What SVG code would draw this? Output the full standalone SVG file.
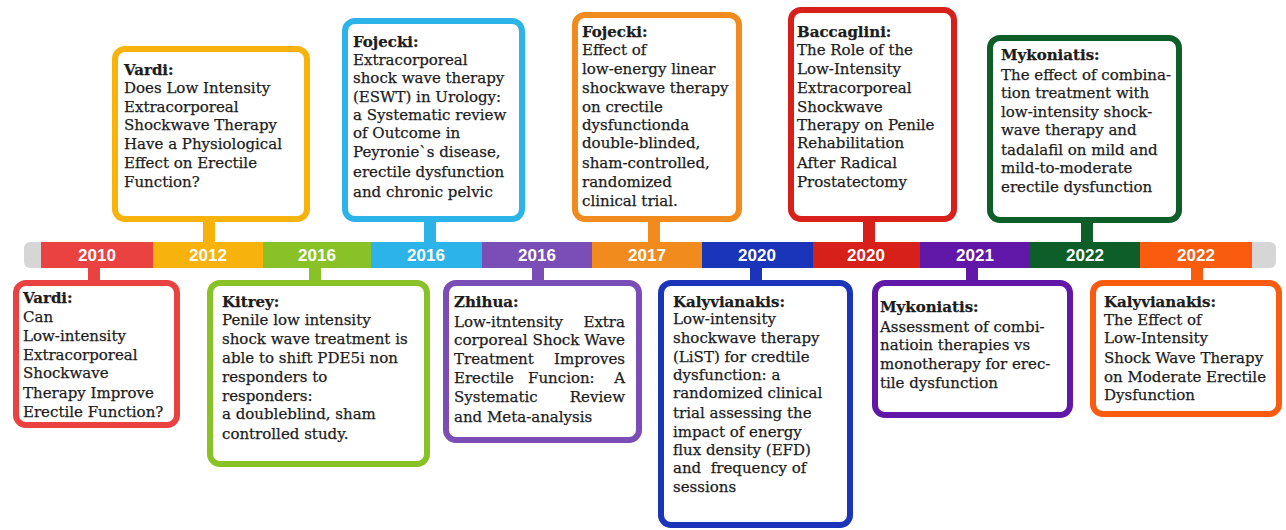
<svg xmlns="http://www.w3.org/2000/svg" width="1286" height="530" viewBox="0 0 1286 530">
<style>
.t{font-family:"DejaVu Serif","Liberation Serif",serif;font-size:15px;fill:#1c1c1c;stroke:#1c1c1c;stroke-width:0.25px}
.h{font-weight:bold}
.yr{font-family:"Liberation Sans",Arial,sans-serif;font-weight:bold;font-size:17px;fill:#fff;text-anchor:middle}
.box{fill:#fff;stroke-width:6}
</style>
<rect width="1286" height="530" fill="#fff"/>
<g id="timeline">
<rect x="24" y="242" width="1252" height="26" rx="6" fill="#d6d6d6"/>
<rect x="41" y="242" width="112" height="26" fill="#ea4141"/>
<rect x="153" y="242" width="110" height="26" fill="#f7b20c"/>
<rect x="263" y="242" width="108" height="26" fill="#88c226"/>
<rect x="371" y="242" width="111" height="26" fill="#2cb3e8"/>
<rect x="482" y="242" width="110" height="26" fill="#7b4db6"/>
<rect x="592" y="242" width="110" height="26" fill="#f28b1e"/>
<rect x="702" y="242" width="111" height="26" fill="#1a35b9"/>
<rect x="813" y="242" width="107" height="26" fill="#d72019"/>
<rect x="920" y="242" width="110" height="26" fill="#6118a8"/>
<rect x="1030" y="242" width="110" height="26" fill="#0d5e28"/>
<rect x="1140" y="242" width="112" height="26" fill="#f95b0f"/>
<text class="yr" x="97" y="261">2010</text>
<text class="yr" x="208" y="261">2012</text>
<text class="yr" x="317" y="261">2016</text>
<text class="yr" x="426" y="261">2016</text>
<text class="yr" x="537" y="261">2016</text>
<text class="yr" x="647" y="261">2017</text>
<text class="yr" x="757" y="261">2020</text>
<text class="yr" x="866" y="261">2020</text>
<text class="yr" x="975" y="261">2021</text>
<text class="yr" x="1085" y="261">2022</text>
<text class="yr" x="1196" y="261">2022</text>
</g>
<g id="connectors">
<rect x="88" y="266" width="12" height="16" fill="#ea4141"/>
<rect x="203" y="219" width="12" height="24" fill="#f7b20c"/>
<rect x="309" y="266" width="12" height="16" fill="#88c226"/>
<rect x="424" y="219" width="12" height="24" fill="#2cb3e8"/>
<rect x="532" y="266" width="12" height="16" fill="#7b4db6"/>
<rect x="648" y="219" width="12" height="24" fill="#f28b1e"/>
<rect x="750" y="266" width="12" height="16" fill="#1a35b9"/>
<rect x="863" y="219" width="12" height="24" fill="#d72019"/>
<rect x="966" y="266" width="12" height="16" fill="#6118a8"/>
<rect x="1081" y="219" width="12" height="24" fill="#0d5e28"/>
<rect x="1191" y="266" width="12" height="16" fill="#f95b0f"/>
</g>
<g id="n2010">
<rect class="box" x="16" y="283" width="161" height="142" rx="10" stroke="#ea4141"/>
<text class="t" x="23"><tspan class="h" y="303">Vardi:</tspan><tspan x="23" y="322">Can</tspan><tspan x="23" y="341">Low-intensity</tspan><tspan x="23" y="360">Extracorporeal</tspan><tspan x="23" y="378">Shockwave</tspan><tspan x="23" y="398">Therapy Improve</tspan><tspan x="23" y="417">Erectile Function?</tspan></text>
</g>
<g id="n2012">
<rect class="box" x="115" y="49" width="192" height="170" rx="10" stroke="#f7b20c"/>
<text class="t" x="124"><tspan class="h" y="75">Vardi:</tspan><tspan x="124" y="93">Does Low Intensity</tspan><tspan x="124" y="112">Extracorporeal</tspan><tspan x="124" y="130">Shockwave Therapy</tspan><tspan x="124" y="149">Have a Physiological</tspan><tspan x="124" y="168">Effect on Erectile</tspan><tspan x="124" y="187">Function?</tspan></text>
</g>
<g id="n2016a">
<rect class="box" x="210" y="283" width="217" height="181" rx="10" stroke="#88c226"/>
<text class="t" x="222"><tspan class="h" y="307">Kitrey:</tspan><tspan x="222" y="325">Penile low intensity</tspan><tspan x="222" y="344">shock wave treatment is</tspan><tspan x="222" y="363">able to shift PDE5i non</tspan><tspan x="222" y="382">responders to</tspan><tspan x="222" y="401">responders:</tspan><tspan x="222" y="419">a doubleblind, sham</tspan><tspan x="222" y="439">controlled study.</tspan></text>
</g>
<g id="n2016b">
<rect class="box" x="345" y="21" width="177" height="198" rx="10" stroke="#2cb3e8"/>
<text class="t" x="353"><tspan class="h" y="47">Fojecki:</tspan><tspan x="353" y="65">Extracorporeal</tspan><tspan x="353" y="83">shock wave therapy</tspan><tspan x="353" y="102">(ESWT) in Urology:</tspan><tspan x="353" y="120">a Systematic review</tspan><tspan x="353" y="138">of Outcome in</tspan><tspan x="353" y="157">Peyronie`s disease,</tspan><tspan x="353" y="177">erectile dysfunction</tspan><tspan x="353" y="197">and chronic pelvic</tspan></text>
</g>
<g id="n2016c">
<rect class="box" x="446" y="283" width="193" height="157" rx="10" stroke="#7b4db6"/>
<text class="t h" x="454" y="307">Zhihua:</text>
<text class="t" x="454" y="327">Low-itntensity</text><text class="t" x="625" y="327" text-anchor="end">Extra</text>
<text class="t" x="454" y="345" textLength="171" lengthAdjust="spacingAndGlyphs">corporeal Shock Wave</text>
<text class="t" x="454" y="364">Treatment</text><text class="t" x="625" y="364" text-anchor="end">Improves</text>
<text class="t" x="454" y="383">Erectile</text><text class="t" x="528" y="383">Funcion:</text><text class="t" x="625" y="383" text-anchor="end">A</text>
<text class="t" x="454" y="402">Systematic</text><text class="t" x="625" y="402" text-anchor="end">Review</text>
<text class="t" x="454" y="422">and Meta-analysis</text>
</g>
<g id="n2017">
<rect class="box" x="575" y="15" width="164" height="204" rx="10" stroke="#f28b1e"/>
<text class="t" x="582"><tspan class="h" y="37">Fojecki:</tspan><tspan x="582" y="55">Effect of</tspan><tspan x="582" y="74">low-energy linear</tspan><tspan x="582" y="93">shockwave therapy</tspan><tspan x="582" y="112">on crectile</tspan><tspan x="582" y="130">dysfunctionda</tspan><tspan x="582" y="148">double-blinded,</tspan><tspan x="582" y="168">sham-controlled,</tspan><tspan x="582" y="187">randomized</tspan><tspan x="582" y="206">clinical trial.</tspan></text>
</g>
<g id="n2020a">
<rect class="box" x="661" y="283" width="189" height="242" rx="10" stroke="#1a35b9"/>
<text class="t" x="673"><tspan class="h" y="307">Kalyvianakis:</tspan><tspan x="673" y="324">Low-intensity</tspan><tspan x="673" y="343">shockwave therapy</tspan><tspan x="673" y="362">(LiST) for credtile</tspan><tspan x="673" y="380">dysfunction: a</tspan><tspan x="673" y="398">randomized clinical</tspan><tspan x="673" y="418">trial assessing the</tspan><tspan x="673" y="437">impact of energy</tspan><tspan x="673" y="455">flux density (EFD)</tspan><tspan x="673" y="473" xml:space="preserve">and  frequency of</tspan><tspan x="673" y="492">sessions</tspan></text>
</g>
<g id="n2020b">
<rect class="box" x="791" y="10" width="163" height="209" rx="10" stroke="#d72019"/>
<text class="t" x="797"><tspan class="h" y="37">Baccaglini:</tspan><tspan x="797" y="55">The Role of the</tspan><tspan x="797" y="74">Low-Intensity</tspan><tspan x="797" y="93">Extracorporeal</tspan><tspan x="797" y="112">Shockwave</tspan><tspan x="797" y="130">Therapy on Penile</tspan><tspan x="797" y="148">Rehabilitation</tspan><tspan x="797" y="168">After Radical</tspan><tspan x="797" y="187">Prostatectomy</tspan></text>
</g>
<g id="n2021">
<rect class="box" x="875" y="283" width="195" height="132" rx="10" stroke="#6118a8"/>
<text class="t" x="880"><tspan class="h" y="312">Mykoniatis:</tspan><tspan x="880" y="332">Assessment of combi-</tspan><tspan x="880" y="350">natioin therapies vs</tspan><tspan x="880" y="369">monotherapy for erec-</tspan><tspan x="880" y="388">tile dysfunction</tspan></text>
</g>
<g id="n2022a">
<rect class="box" x="990" y="38" width="189" height="182" rx="10" stroke="#0d5e28"/>
<text class="t" x="1001"><tspan class="h" y="60">Mykoniatis:</tspan><tspan x="1001" y="80">The effect of combina-</tspan><tspan x="1001" y="98">tion treatment with</tspan><tspan x="1001" y="117">low-intensity shock-</tspan><tspan x="1001" y="135">wave therapy and</tspan><tspan x="1001" y="155">tadalafil on mild and</tspan><tspan x="1001" y="173">mild-to-moderate</tspan><tspan x="1001" y="192">erectile dysfunction</tspan></text>
</g>
<g id="n2022b">
<rect class="box" x="1093" y="283" width="186" height="131" rx="10" stroke="#f95b0f"/>
<text class="t" x="1104"><tspan class="h" y="307">Kalyvianakis:</tspan><tspan x="1104" y="325">The Effect of</tspan><tspan x="1104" y="343">Low-Intensity</tspan><tspan x="1104" y="363">Shock Wave Therapy</tspan><tspan x="1104" y="382">on Moderate Erectile</tspan><tspan x="1104" y="400">Dysfunction</tspan></text>
</g>
</svg>
